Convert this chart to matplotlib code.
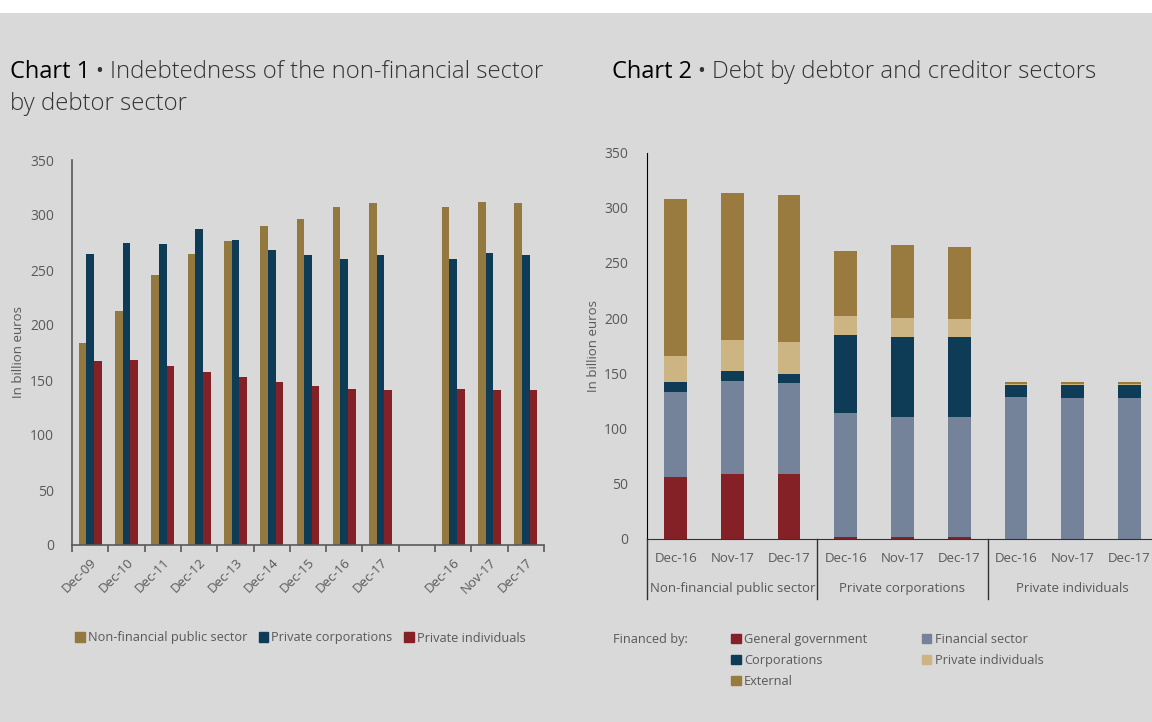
import matplotlib
matplotlib.use('Agg')
import matplotlib.pyplot as plt
import matplotlib.patches as mpatches
import matplotlib.transforms as mtransforms
import numpy as np

plt.rcParams['font.family'] = ['Open Sans', 'DejaVu Sans']

# ---- chart 1 data: indebtedness by debtor sector (billion euros)
c1_labels = ['Dec-09', 'Dec-10', 'Dec-11', 'Dec-12', 'Dec-13', 'Dec-14', 'Dec-15',
             'Dec-16', 'Dec-17', '', 'Dec-16', 'Nov-17', 'Dec-17']
c1_public = [184, 213, 245.5, 265, 276.5, 290, 296.5, 307, 311, np.nan, 307, 312, 311]
c1_corp = [265, 275, 273.5, 287, 277, 268, 264, 260, 264, np.nan, 260, 265.5, 264]
c1_indiv = [167, 168, 163, 157.5, 152.5, 148, 144.5, 141.5, 141, np.nan, 141.5, 140.5, 141]
c1_series = ['Non-financial public sector', 'Private corporations', 'Private individuals']

# ---- chart 2 data: debt by debtor and creditor sectors
c2_groups = ['Non-financial public sector', 'Private corporations', 'Private individuals']
c2_dates = ['Dec-16', 'Nov-17', 'Dec-17']
c2_gengov = [55.6, 58.9, 58.6, 1, 1, 1, 0, 0, 0]
c2_financial = [77.7, 84.3, 82.5, 112.6, 109.6, 109, 128.2, 127.2, 127.2]
c2_corporations = [8.5, 8.8, 8.2, 71.1, 72.6, 72.6, 11.4, 11.8, 12.1]
c2_privind = [23.5, 27.9, 29, 17.2, 16.6, 16.6, 1, 1.5, 1.3]
c2_external = [142.7, 133.3, 133.4, 58.7, 66.8, 65.6, 1.4, 1.5, 1.4]

BG = '#d9d9d9'
GOLD = '#937840'
GOLD2 = '#9a7b3f'
BLUE = '#0e3c57'
RED = '#842127'
SLATE = '#748399'
TAN = '#cdb483'
TXT = '#595959'

W, H = 1152, 722
fig = plt.figure(figsize=(W / 100, H / 100), dpi=100)
fig.patch.set_facecolor(BG)
# white strip across the top
fig.patches.append(mpatches.Rectangle((0, 1 - 13 / H), 1, 13 / H, transform=fig.transFigure,
                                      facecolor='white', edgecolor='none', zorder=0))


def fx(px):
    return px / W


def fy(py):
    return 1 - py / H


def title(x, y, bold, rest):
    t1 = fig.text(fx(x), fy(y), bold, fontsize=17, color='black', va='baseline')
    fig.canvas.draw()
    bb = t1.get_window_extent()
    fig.text(fx(bb.x1 + 5), fy(y - 1), '\u2022', fontsize=15, color='#333333', va='baseline')
    fig.text(fx(bb.x1 + 20), fy(y), rest, fontsize=17.2, color='#333333',
             fontweight='light', va='baseline')


title(10, 78, 'Chart 1', 'Indebtedness of the non-financial sector')
fig.text(fx(10), fy(110), 'by debtor sector', fontsize=17.2, color='#333333',
         fontweight='light', va='baseline')
title(612, 78, 'Chart 2', 'Debt by debtor and creditor sectors')

# ---------------- chart 1
ax1 = fig.add_axes([fx(72), fy(545), fx(544 - 72), (545 - 160) / H])
ax1.set_facecolor('none')
x = np.arange(len(c1_labels))
bw = 0.21
ax1.bar(x - bw, c1_public, bw, color=GOLD, label=c1_series[0])
ax1.bar(x, c1_corp, bw, color=BLUE, label=c1_series[1])
ax1.bar(x + bw, c1_indiv, bw, color=RED, label=c1_series[2])
ax1.set_xlim(-0.5, len(c1_labels) - 0.5)
ax1.set_ylim(0, 350)
ax1.set_yticks(range(0, 351, 50))
ax1.set_xticks(x)
ax1.set_xticklabels(c1_labels, rotation=45, ha='right', rotation_mode='anchor')
ax1.set_xticks(np.arange(-0.5, len(c1_labels)), minor=True)
ax1.tick_params(axis='x', which='major', length=0, pad=8, labelsize=9.5, labelcolor=TXT)
ax1.tick_params(axis='x', which='minor', length=5, width=1.2, color='#595959', direction='out')
ax1.tick_params(axis='y', length=0, pad=13, labelsize=10, labelcolor=TXT)
for s in ['top', 'right']:
    ax1.spines[s].set_visible(False)
for s in ['left', 'bottom']:
    ax1.spines[s].set_color('#595959')
    ax1.spines[s].set_linewidth(1.2)
ax1.set_ylabel('In billion euros', fontsize=9.5, color=TXT)
ax1.yaxis.set_label_coords((25 - 72) / 472, 0.5)

h1 = [mpatches.Patch(color=c) for c in (GOLD, BLUE, RED)]
fig.legend(h1, c1_series, loc='center left', bbox_to_anchor=(fx(75), fy(638)), ncol=3,
           frameon=False, fontsize=9.2, labelcolor=TXT, handlelength=0.75, handleheight=0.75,
           handletextpad=0.25, columnspacing=0.9, borderaxespad=0, borderpad=0)

# ---------------- chart 2
ax2 = fig.add_axes([fx(647.3), fy(538.6), fx(W - 647.3), (538.6 - 152.7) / H])
ax2.set_facecolor('none')
x2 = np.arange(len(c2_gengov))
layers = [(c2_gengov, RED, 'General government'),
          (c2_financial, SLATE, 'Financial sector'),
          (c2_corporations, BLUE, 'Corporations'),
          (c2_privind, TAN, 'Private individuals'),
          (c2_external, GOLD2, 'External')]
bottom = np.zeros(len(x2))
for vals, col, lab in layers:
    ax2.bar(x2, vals, 0.4, bottom=bottom, color=col, label=lab)
    bottom += np.array(vals)
ax2.set_xlim(-0.5, 8.4)
ax2.set_ylim(0, 350)
ax2.set_yticks(range(0, 351, 50))
ax2.set_xticks(x2)
ax2.set_xticklabels(c2_dates * 3)
ax2.tick_params(axis='x', length=0, pad=10, labelsize=9.5, labelcolor=TXT)
ax2.tick_params(axis='y', length=0, pad=14, labelsize=10, labelcolor=TXT)
for s in ['top', 'right']:
    ax2.spines[s].set_visible(False)
ax2.spines['left'].set_color('black')
ax2.spines['bottom'].set_color('#333333')
ax2.set_ylabel('In billion euros', fontsize=9.5, color=TXT)
ax2.yaxis.set_label_coords((600 - 647.3) / (W - 647.3), 0.5)

trans = mtransforms.blended_transform_factory(ax2.transData, ax2.transAxes)
below = -60 / (538.6 - 152.7)
for xs in (-0.5, 2.5, 5.5):
    ax2.plot([xs, xs], [0, below], transform=trans, color='#333333', lw=1, clip_on=False)
for i, g in enumerate(c2_groups):
    ax2.text(3 * i + 1, -50 / (538.6 - 152.7), g, transform=trans, ha='center', va='center',
             fontsize=9.5, color=TXT)

fig.text(fx(613), fy(640), 'Financed by:', fontsize=9.2, color=TXT, va='center')
order = [0, 2, 4, 1, 3]
h2 = [mpatches.Patch(color=layers[i][1]) for i in order]
l2 = [layers[i][2] for i in order]
fig.legend(h2, l2, loc='upper left', bbox_to_anchor=(fx(731), fy(633)), ncol=2,
           frameon=False, fontsize=9.2, labelcolor=TXT, handlelength=0.75, handleheight=0.75,
           handletextpad=0.25, columnspacing=4.3, labelspacing=0.62, borderaxespad=0, borderpad=0)

fig.savefig('out.png', dpi=100, facecolor=fig.get_facecolor())
